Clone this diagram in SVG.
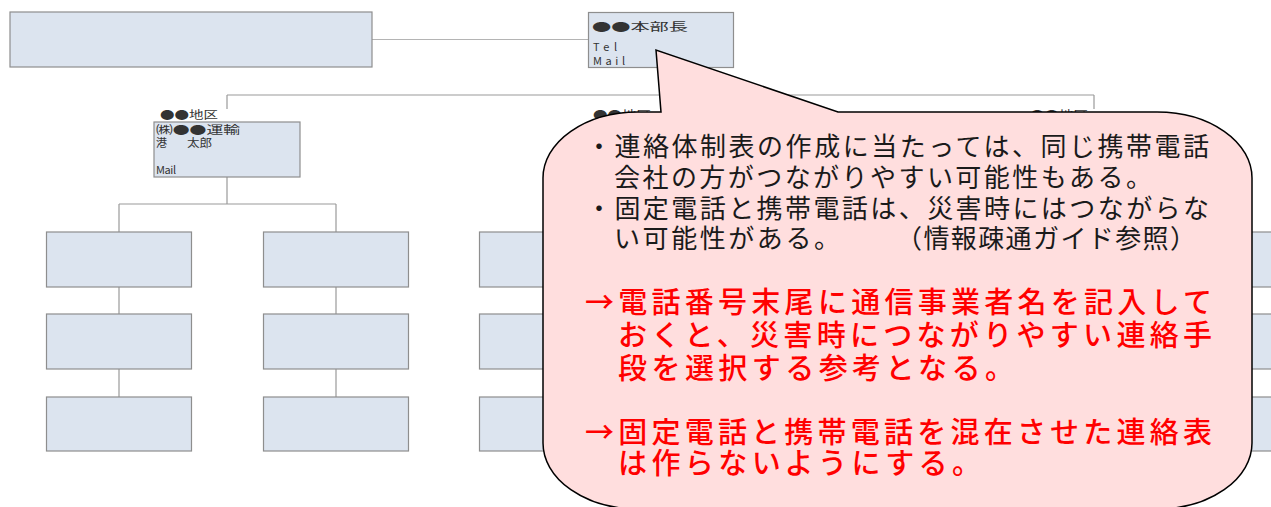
<svg xmlns="http://www.w3.org/2000/svg" width="1271" height="507" viewBox="0 0 1271 507">
<style>
.box{fill:#dce4ef;stroke:#8e8e8e;stroke-width:1.2}
.ln{stroke:#9a9a9a;stroke-width:1.2;fill:none}
.ln2{stroke:#b4b4b4;stroke-width:1;fill:none}
.sm{font-family:"Noto Sans CJK JP","Liberation Serif",serif;fill:#333;font-size:11px}
.bk{font-family:"Noto Sans CJK JP","Liberation Sans",sans-serif;fill:#1a1a1a;font-size:26px}
.rd{font-family:"Noto Sans CJK JP","Liberation Sans",sans-serif;fill:#ff0000;font-size:29px;font-weight:500}
.callout{fill:#ffdede;stroke:#000;stroke-width:1.5}
</style>
<rect width="1271" height="507" fill="#fff"/>
<g id="connectors">
<path class="ln2" d="M372,39.5H588"/>
<path class="ln" d="M660.5,67V95M227,95H1094M227,95V109M660.5,95V109M1094,95V109"/>
<path class="ln" d="M227,177V204M119,204H336M119,204V232M336,204V232M119,287V314M119,369V397M336,287V314M336,369V397"/>
<path class="ln" d="M660.5,177V204M551.5,204H769.5M551.5,204V232M769.5,204V232M551.5,287V314M551.5,369V397M769.5,287V314M769.5,369V397"/>
<path class="ln" d="M1094.5,177V204M985.5,204H1203.5M985.5,204V232M1203.5,204V232M985.5,287V314M985.5,369V397M1203.5,287V314M1203.5,369V397"/>
</g>
<g id="top-left-box"><rect class="box" x="10" y="12" width="362" height="55"/></g>
<g id="honbucho">
<rect class="box" x="588.5" y="12.5" width="145" height="55"/>
<text class="sm" x="592" y="31" font-size="13" textLength="96" lengthAdjust="spacingAndGlyphs">●●本部長</text>
<text class="sm" x="593" y="51" font-size="10" textLength="24" lengthAdjust="spacing">Tel</text>
<text class="sm" x="593" y="65" font-size="10" textLength="32" lengthAdjust="spacing">Mail</text>
</g>
<g id="region-left">
<text class="sm" x="160" y="119" font-size="12" textLength="58" lengthAdjust="spacingAndGlyphs">●●地区</text>
<rect class="box" x="154" y="122" width="146" height="55"/>
<text class="sm" x="156" y="134" font-size="11" textLength="84" lengthAdjust="spacingAndGlyphs">㈱●●運輸</text>
<text class="sm" x="156" y="146.5" font-size="11">港</text>
<text class="sm" x="187" y="146.5" font-size="11" textLength="25" lengthAdjust="spacingAndGlyphs">太郎</text>
<text class="sm" x="156" y="174" font-size="10" textLength="20" lengthAdjust="spacing">Mail</text>
</g>
<g id="region-mid">
<text class="sm" x="593" y="119" font-size="12" textLength="58" lengthAdjust="spacingAndGlyphs">●●地区</text>
<rect class="box" x="588" y="122" width="145" height="55"/>
</g>
<g id="region-right">
<text class="sm" x="1030" y="119" font-size="12" textLength="58" lengthAdjust="spacingAndGlyphs">●●地区</text>
<rect class="box" x="1022" y="122" width="145" height="55"/>
</g>
<g id="col1"><rect class="box" x="46.5" y="232" width="145" height="55"/><rect class="box" x="46.5" y="314" width="145" height="55"/><rect class="box" x="46.5" y="397" width="145" height="54"/></g>
<g id="col2"><rect class="box" x="263.5" y="232" width="145" height="55"/><rect class="box" x="263.5" y="314" width="145" height="55"/><rect class="box" x="263.5" y="397" width="145" height="54"/></g>
<g id="col3"><rect class="box" x="479.5" y="232" width="145" height="55"/><rect class="box" x="479.5" y="314" width="145" height="55"/><rect class="box" x="479.5" y="397" width="145" height="54"/></g>
<g id="col4"><rect class="box" x="697" y="232" width="145" height="55"/><rect class="box" x="697" y="314" width="145" height="55"/><rect class="box" x="697" y="397" width="145" height="54"/></g>
<g id="col5"><rect class="box" x="913" y="232" width="145" height="55"/><rect class="box" x="913" y="314" width="145" height="55"/><rect class="box" x="913" y="397" width="145" height="54"/></g>
<g id="col6"><rect class="box" x="1131" y="232" width="145" height="55"/><rect class="box" x="1131" y="314" width="145" height="55"/><rect class="box" x="1131" y="397" width="145" height="54"/></g>
<g id="callout">
<path class="callout" d="M638,112L661,112L656,50L838,112L1157,112A95,66 0 0 1 1252,178L1252,443A95,66 0 0 1 1157,509L638,509A95,66 0 0 1 543,443L543,178A95,66 0 0 1 638,112Z"/>
<text class="bk" x="586" y="156" textLength="623" lengthAdjust="spacing">・連絡体制表の作成に当たっては、同じ携帯電話</text>
<text class="bk" x="614" y="187" textLength="538" lengthAdjust="spacing">会社の方がつながりやすい可能性もある。</text>
<text class="bk" x="586" y="218" textLength="623" lengthAdjust="spacing">・固定電話と携帯電話は、災害時にはつながらな</text>
<text class="bk" x="614" y="248" textLength="226" lengthAdjust="spacing">い可能性がある。</text>
<text class="bk" x="896" y="248" textLength="300" lengthAdjust="spacing">（情報疎通ガイド参照）</text>
<text class="rd" x="585" y="313" textLength="627" lengthAdjust="spacing">→電話番号末尾に通信事業者名を記入して</text>
<text class="rd" x="618" y="346" textLength="594" lengthAdjust="spacing">おくと、災害時につながりやすい連絡手</text>
<text class="rd" x="618" y="379" textLength="396" lengthAdjust="spacing">段を選択する参考となる。</text>
<text class="rd" x="585" y="443" textLength="627" lengthAdjust="spacing">→固定電話と携帯電話を混在させた連絡表</text>
<text class="rd" x="618" y="474" textLength="363" lengthAdjust="spacing">は作らないようにする。</text>
</g>
</svg>
